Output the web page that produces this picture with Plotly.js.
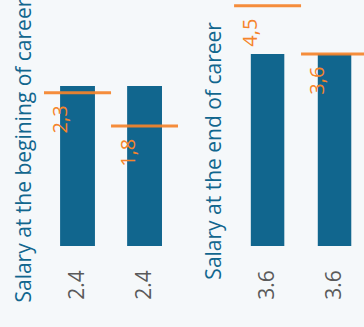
<!DOCTYPE html>
<html><head><meta charset="utf-8">
<script src="https://cdn.plot.ly/plotly-3.0.1.min.js"></script>
<style>html,body{margin:0;padding:0;background:#f5f8fa;}#c{width:364px;height:327px;}</style>
</head><body><div id="c"></div>
<script>
var barLabels1 = ["2.4", "2.4"];
var barValues1 = [2.4, 2.4];
var refValues1 = [2.3, 1.8];
var barLabels2 = ["3.6", "3.6"];
var barValues2 = [3.6, 3.6];
var refValues2 = [4.5, 3.6];
var titles = ["Salary at the begining of career", "Salary at the end of career"];

var BLUE = "#11668e", ORANGE = "#f5842b", GREY = "#5a5a5a";
var FONT = "Open Sans, sans-serif";
var FS = 21;
var idx = [0, 1];

var traces = [
  {type: "bar", x: idx, y: barValues1, width: 0.52, marker: {color: BLUE}, xaxis: "x", yaxis: "y", hoverinfo: "none"},
  {type: "bar", x: idx, y: barValues2, width: 0.5, marker: {color: BLUE}, xaxis: "x2", yaxis: "y2", hoverinfo: "none"}
];

var shapes = [], annotations = [];
function addRefs(vals, xr, yr) {
  vals.forEach(function (v, i) {
    shapes.push({type: "line", xref: xr, yref: yr, x0: i - 0.5, x1: i + 0.5, y0: v, y1: v,
      line: {color: ORANGE, width: 3}, opacity: 0.92, layer: "above"});
    annotations.push({xref: xr, yref: yr, x: i - 0.265, y: v, xanchor: "center", yanchor: "top",
      yshift: -11, showarrow: false, textangle: -90, text: String(v).replace(".", ","),
      font: {family: FONT, size: 20, color: ORANGE}});
  });
}
addRefs(refValues1, "x", "y");
addRefs(refValues2, "x2", "y2");

annotations.push({xref: "paper", yref: "paper", x: 0, xshift: -21, y: 0.388, xanchor: "center", yanchor: "middle",
  showarrow: false, textangle: -90, text: titles[0], font: {family: FONT, size: FS, color: BLUE}});
annotations.push({xref: "paper", yref: "paper", x: 0.594, xshift: -22, y: 0.388, xanchor: "center", yanchor: "middle",
  showarrow: false, textangle: -90, text: titles[1], font: {family: FONT, size: FS, color: BLUE}});

var tickFont = {family: FONT, size: FS, color: GREY};
var layout = {
  width: 364, height: 327,
  margin: {l: 44, r: 0, t: 0, b: 81},
  paper_bgcolor: "#f5f8fa", plot_bgcolor: "#f5f8fa",
  showlegend: false,
  xaxis: {domain: [0, 0.419], range: [-0.5, 1.5], tickvals: idx, ticktext: barLabels1, tickangle: -90,
    tickfont: tickFont, showgrid: false, zeroline: false, showline: false, ticks: "", ticklabelstandoff: 19},
  xaxis2: {domain: [0.594, 1], range: [-0.5, 1.44], tickvals: idx, ticktext: barLabels2, tickangle: -90,
    tickfont: tickFont, showgrid: false, zeroline: false, showline: false, ticks: "", ticklabelstandoff: 19, anchor: "y2"},
  yaxis: {range: [0, 3.69], showticklabels: false, showgrid: false, zeroline: false, showline: false, ticks: ""},
  yaxis2: {range: [0, 4.61], showticklabels: false, showgrid: false, zeroline: false, showline: false, ticks: "", anchor: "x2"},
  shapes: shapes,
  annotations: annotations
};
Plotly.newPlot("c", traces, layout, {staticPlot: true, displayModeBar: false});
</script></body></html>
